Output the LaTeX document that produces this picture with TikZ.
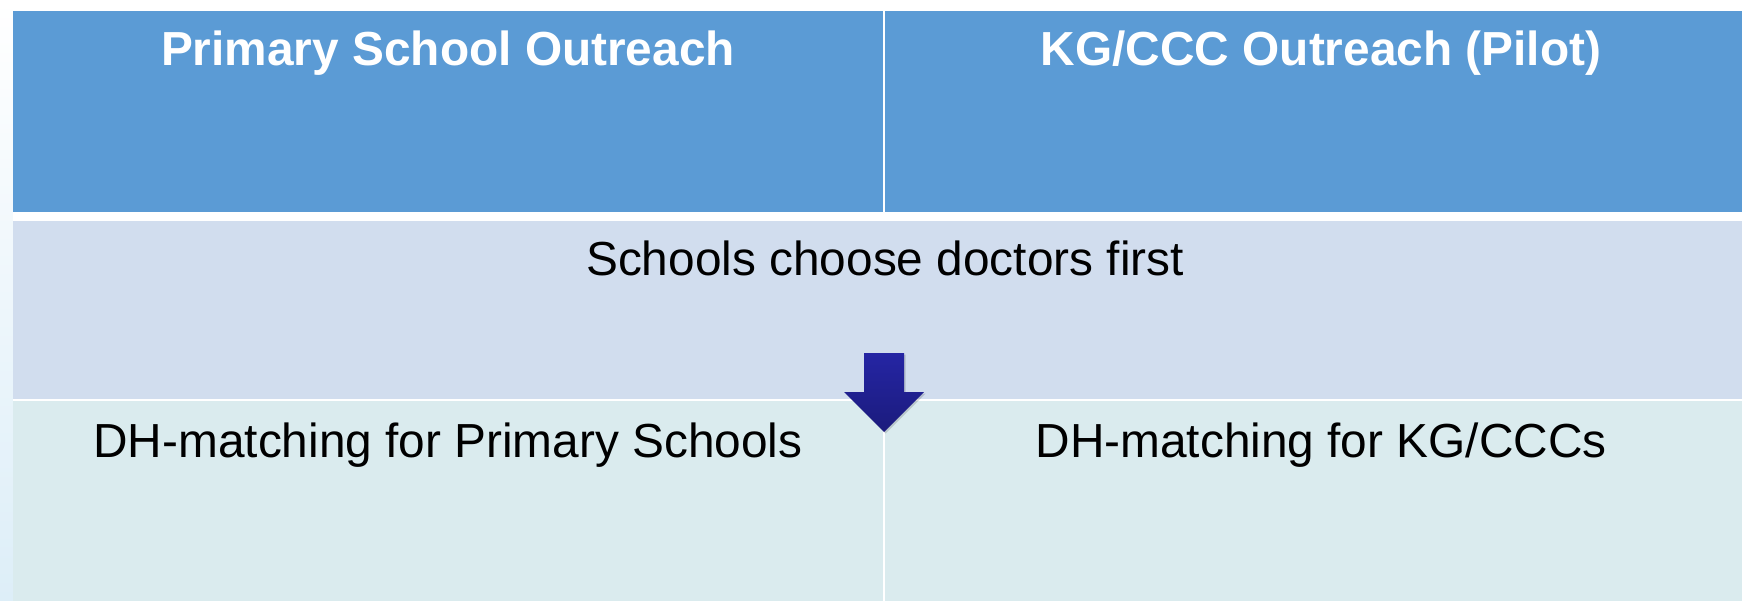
\documentclass[tikz,border=0pt]{standalone}
\usepackage{fontspec}
\setmainfont{Liberation Sans}
\usetikzlibrary{calc}
\definecolor{headblue}{HTML}{5B9BD5}
\definecolor{midrow}{HTML}{D1DDEE}
\definecolor{lowrow}{HTML}{DAEBEE}
\definecolor{arrowtop}{HTML}{2525A4}
\definecolor{arrowbot}{HTML}{1B1B7C}
\definecolor{slideedge}{HTML}{DDEEF8}

\begin{document}
\begin{tikzpicture}[
  head/.style={font=\fontsize{27.2}{32}\selectfont\bfseries, text=white, anchor=base},
  body/.style={font=\fontsize{27.2}{32}\selectfont, text=black, anchor=base}]
\useasboundingbox (0,0) rectangle (34.84,12);
\fill[white] (0,0) rectangle (34.84,12);
\shade[top color=white, bottom color=slideedge] (0,0) rectangle (0.26,12);

\coordinate (L) at (0.26,0);
\coordinate (M) at (17.68,0);
\coordinate (R) at (35.14,0);

\begin{scope}
\clip (0,0) rectangle (34.84,12);
% header row
\fill[headblue] (L|-0,7.76) rectangle ($(M|-0,11.77)+(-0.02,0)$);
\fill[headblue] ($(M|-0,7.76)+(0.02,0)$) rectangle (R|-0,11.77);
% merged row
\fill[midrow] (L|-0,4.02) rectangle (R|-0,7.58);
% bottom row
\fill[lowrow] (L|-0,-0.2) rectangle ($(M|-0,3.98)+(-0.02,0)$);
\fill[lowrow] ($(M|-0,-0.2)+(0.02,0)$) rectangle (R|-0,3.98);
\end{scope}

\node[head] (primary) at (8.96,10.68) {Primary School Outreach};
\node[head] (kgccc) at (26.42,10.68) {KG/CCC Outreach (Pilot)};
\node[body] (choose) at (17.70,6.50) {Schools choose doctors first};
\node[body] (dhprimary) at (8.96,2.86) {DH-matching for Primary Schools};
\node[body] (dhkg) at (26.42,2.86) {DH-matching for KG/CCCs};

% down arrow
\fill[black,opacity=0.15] (17.31,4.91) -- (18.11,4.91) -- (18.11,4.13) -- (18.51,4.13) -- (17.71,3.33) -- (16.91,4.13) -- (17.31,4.13) -- cycle;
\shade[top color=arrowtop, bottom color=arrowbot] (17.28,4.94) -- (18.08,4.94) -- (18.08,4.16) -- (18.48,4.16) -- (17.68,3.36) -- (16.88,4.16) -- (17.28,4.16) -- cycle;

\end{tikzpicture}
\end{document}
